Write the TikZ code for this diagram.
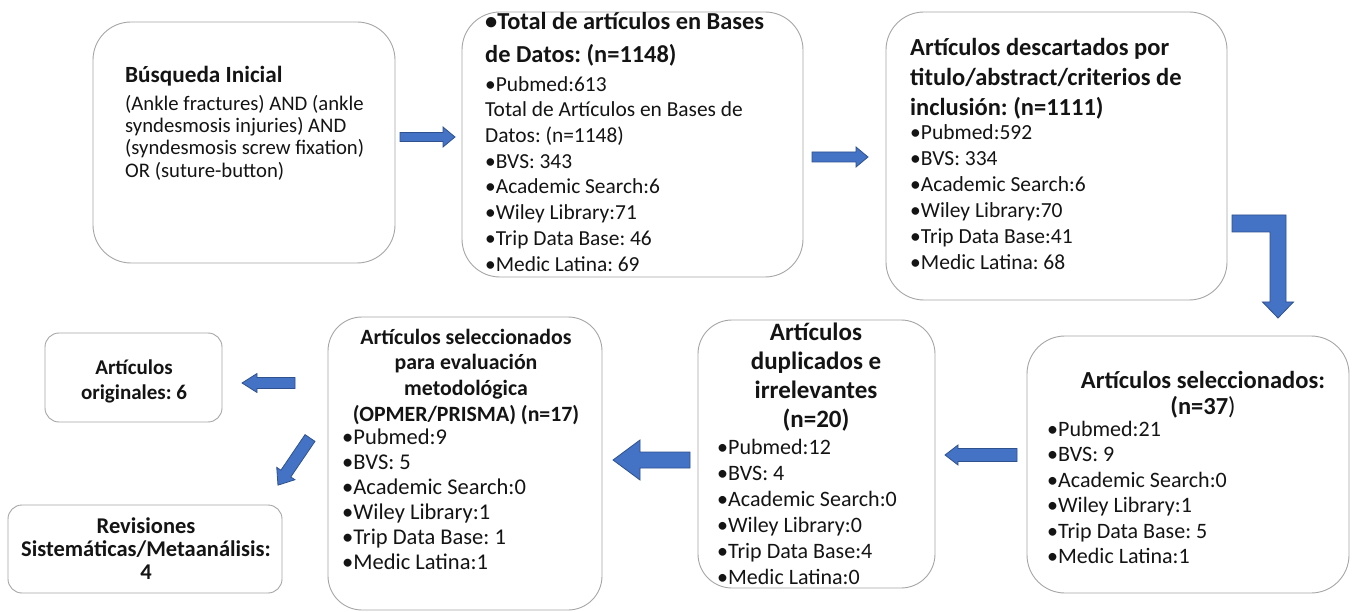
\documentclass[tikz,border=0pt]{standalone}
\usepackage{fontspec}
\setmainfont{Carlito}
\usetikzlibrary{calc}
\definecolor{arrowfill}{HTML}{4472C4}
\definecolor{arrowline}{HTML}{2F528F}
\definecolor{boxline}{HTML}{A6A6A6}
\definecolor{txt}{HTML}{141414}
\newcommand\fsz[2]{\fontsize{#1}{#2}\selectfont}
\frenchspacing
\begin{document}
\begin{tikzpicture}[x=1pt,y=-1pt,
  box/.style={draw=boxline, line width=0.9pt, rounded corners=#1, fill=white,
    inner sep=0pt, outer sep=0pt, anchor=north west},
  box/.default=38pt,
  arrowstyle/.style={fill=arrowfill, draw=arrowline, line width=0.8pt, line join=miter},
  txtl/.style={anchor=north west, align=left, inner sep=0pt, text=txt},
  txtc/.style={anchor=north, align=center, inner sep=0pt, text=txt},
  pics/blk/.style n args={4}{code={
    \filldraw[arrowstyle] (0,{-#2/2}) -- ({#1-#4},{-#2/2}) -- ({#1-#4},{-#3/2}) -- (#1,0)
      -- ({#1-#4},{#3/2}) -- ({#1-#4},{#2/2}) -- (0,{#2/2}) -- cycle;}}
]
\useasboundingbox (0,0) rectangle (1352,612);
\fill[white] (0,0) rectangle (1352,612);

% boxes
\node[box, minimum width=302, minimum height=241] (b1) at (93,22) {};
\node[box, minimum width=341, minimum height=265] (b2) at (462,12) {};
\node[box, minimum width=341, minimum height=288] (b3) at (886,12) {};
\node[box, minimum width=322, minimum height=257] (b4) at (1027,336) {};
\node[box=34pt, minimum width=237, minimum height=268] (b5) at (698,320) {};
\node[box=34pt, minimum width=274, minimum height=293] (b6) at (328,317) {};
\node[box=14pt, minimum width=177, minimum height=89] (b7) at (45,333) {};
\node[box=14pt, minimum width=274, minimum height=88] (b8) at (8,505) {};

% texts
\node[anchor=base west, inner sep=0pt, text=txt, font=\bfseries\fsz{23.2}{27}] (t1) at (125,83) {Búsqueda Inicial};
\node[txtl, font=\fsz{20.7}{22.3}] (l1) at (125,94.4) {\strut(Ankle fractures) AND (ankle\\syndesmosis injuries) AND\\(syndesmosis screw fixation)\\OR (suture-button)};

\node[txtl, font=\bfseries\fsz{24.4}{33}] (t2) at (485,5.9) {\strut•Total de artículos en Bases\\de Datos: (n=1148)};
\node[txtl, font=\fsz{21.4}{25.7}] (l2) at (485,73) {\strut•Pubmed:613\\Total de Artículos en Bases de\\Datos: (n=1148)\\•BVS: 343\\•Academic Search:6\\•Wiley Library:71\\•Trip Data Base: 46\\•Medic Latina: 69};

\node[txtl, font=\bfseries\fsz{24.5}{30}] (t3) at (910,34) {\strut Artículos descartados por\\titulo/abstract/criterios de\\inclusión: (n=1111)};
\node[txtl, font=\fsz{21.5}{26}] (l3) at (910,120.8) {\strut•Pubmed:592\\•BVS: 334\\•Academic Search:6\\•Wiley Library:70\\•Trip Data Base:41\\•Medic Latina: 68};

\node[txtc, font=\bfseries\fsz{24.5}{24}] (t4) at (1203,371) {\strut Artículos seleccionados:\\(n=37{\mdseries)}};
\node[txtl, font=\fsz{22}{25.5}] (l4) at (1047,418) {\strut•Pubmed:21\\•BVS: 9\\•Academic Search:0\\•Wiley Library:1\\•Trip Data Base: 5\\•Medic Latina:1};

\node[txtc, font=\bfseries\fsz{25}{29}] (t5) at (816,319.7) {\strut Artículos\\duplicados e\\irrelevantes\\(n=20)};
\node[txtl, font=\fsz{22}{26}] (l5) at (717,435.8) {\strut•Pubmed:12\\•BVS: 4\\•Academic Search:0\\•Wiley Library:0\\•Trip Data Base:4\\•Medic Latina:0};

\node[txtc, font=\bfseries\fsz{21.8}{25.7}] (t6) at (466,326) {\strut Artículos seleccionados\\para evaluación\\metodológica\\(OPMER/PRISMA) (n=17)};
\node[txtl, font=\fsz{22.5}{25}] (l6) at (342,426.5) {\strut•Pubmed:9\\•BVS: 5\\•Academic Search:0\\•Wiley Library:1\\•Trip Data Base: 1\\•Medic Latina:1};

\node[txtc, font=\bfseries\fsz{21}{25}] (t7) at (134,356.5) {\strut Artículos\\originales: 6};
\node[txtc, font=\bfseries\fsz{22.5}{23}] (t8) at (146,517) {\strut Revisiones\\Sistemáticas/Metaanálisis:\\4};

% block arrows
\pic at (400,137) {blk={55}{9}{20}{12}};
\pic at (812,157) {blk={56}{10}{20}{12}};
\filldraw[arrowstyle] (1232,215) -- (1286,215) -- (1286,302) -- (1293.5,302) -- (1278,318)
  -- (1262.5,302) -- (1270,302) -- (1270,232) -- (1232,232) -- cycle;
\pic[rotate=180] at (1017,455) {blk={72}{13}{20}{13}};
\pic[rotate=180] at (690,460) {blk={77}{16}{40}{27}};
\pic[rotate=180] at (295,383) {blk={53}{11}{19}{15}};
\pic[rotate=-124.2] at (310,438) {blk={57}{12}{22}{14}};
\end{tikzpicture}
\end{document}
